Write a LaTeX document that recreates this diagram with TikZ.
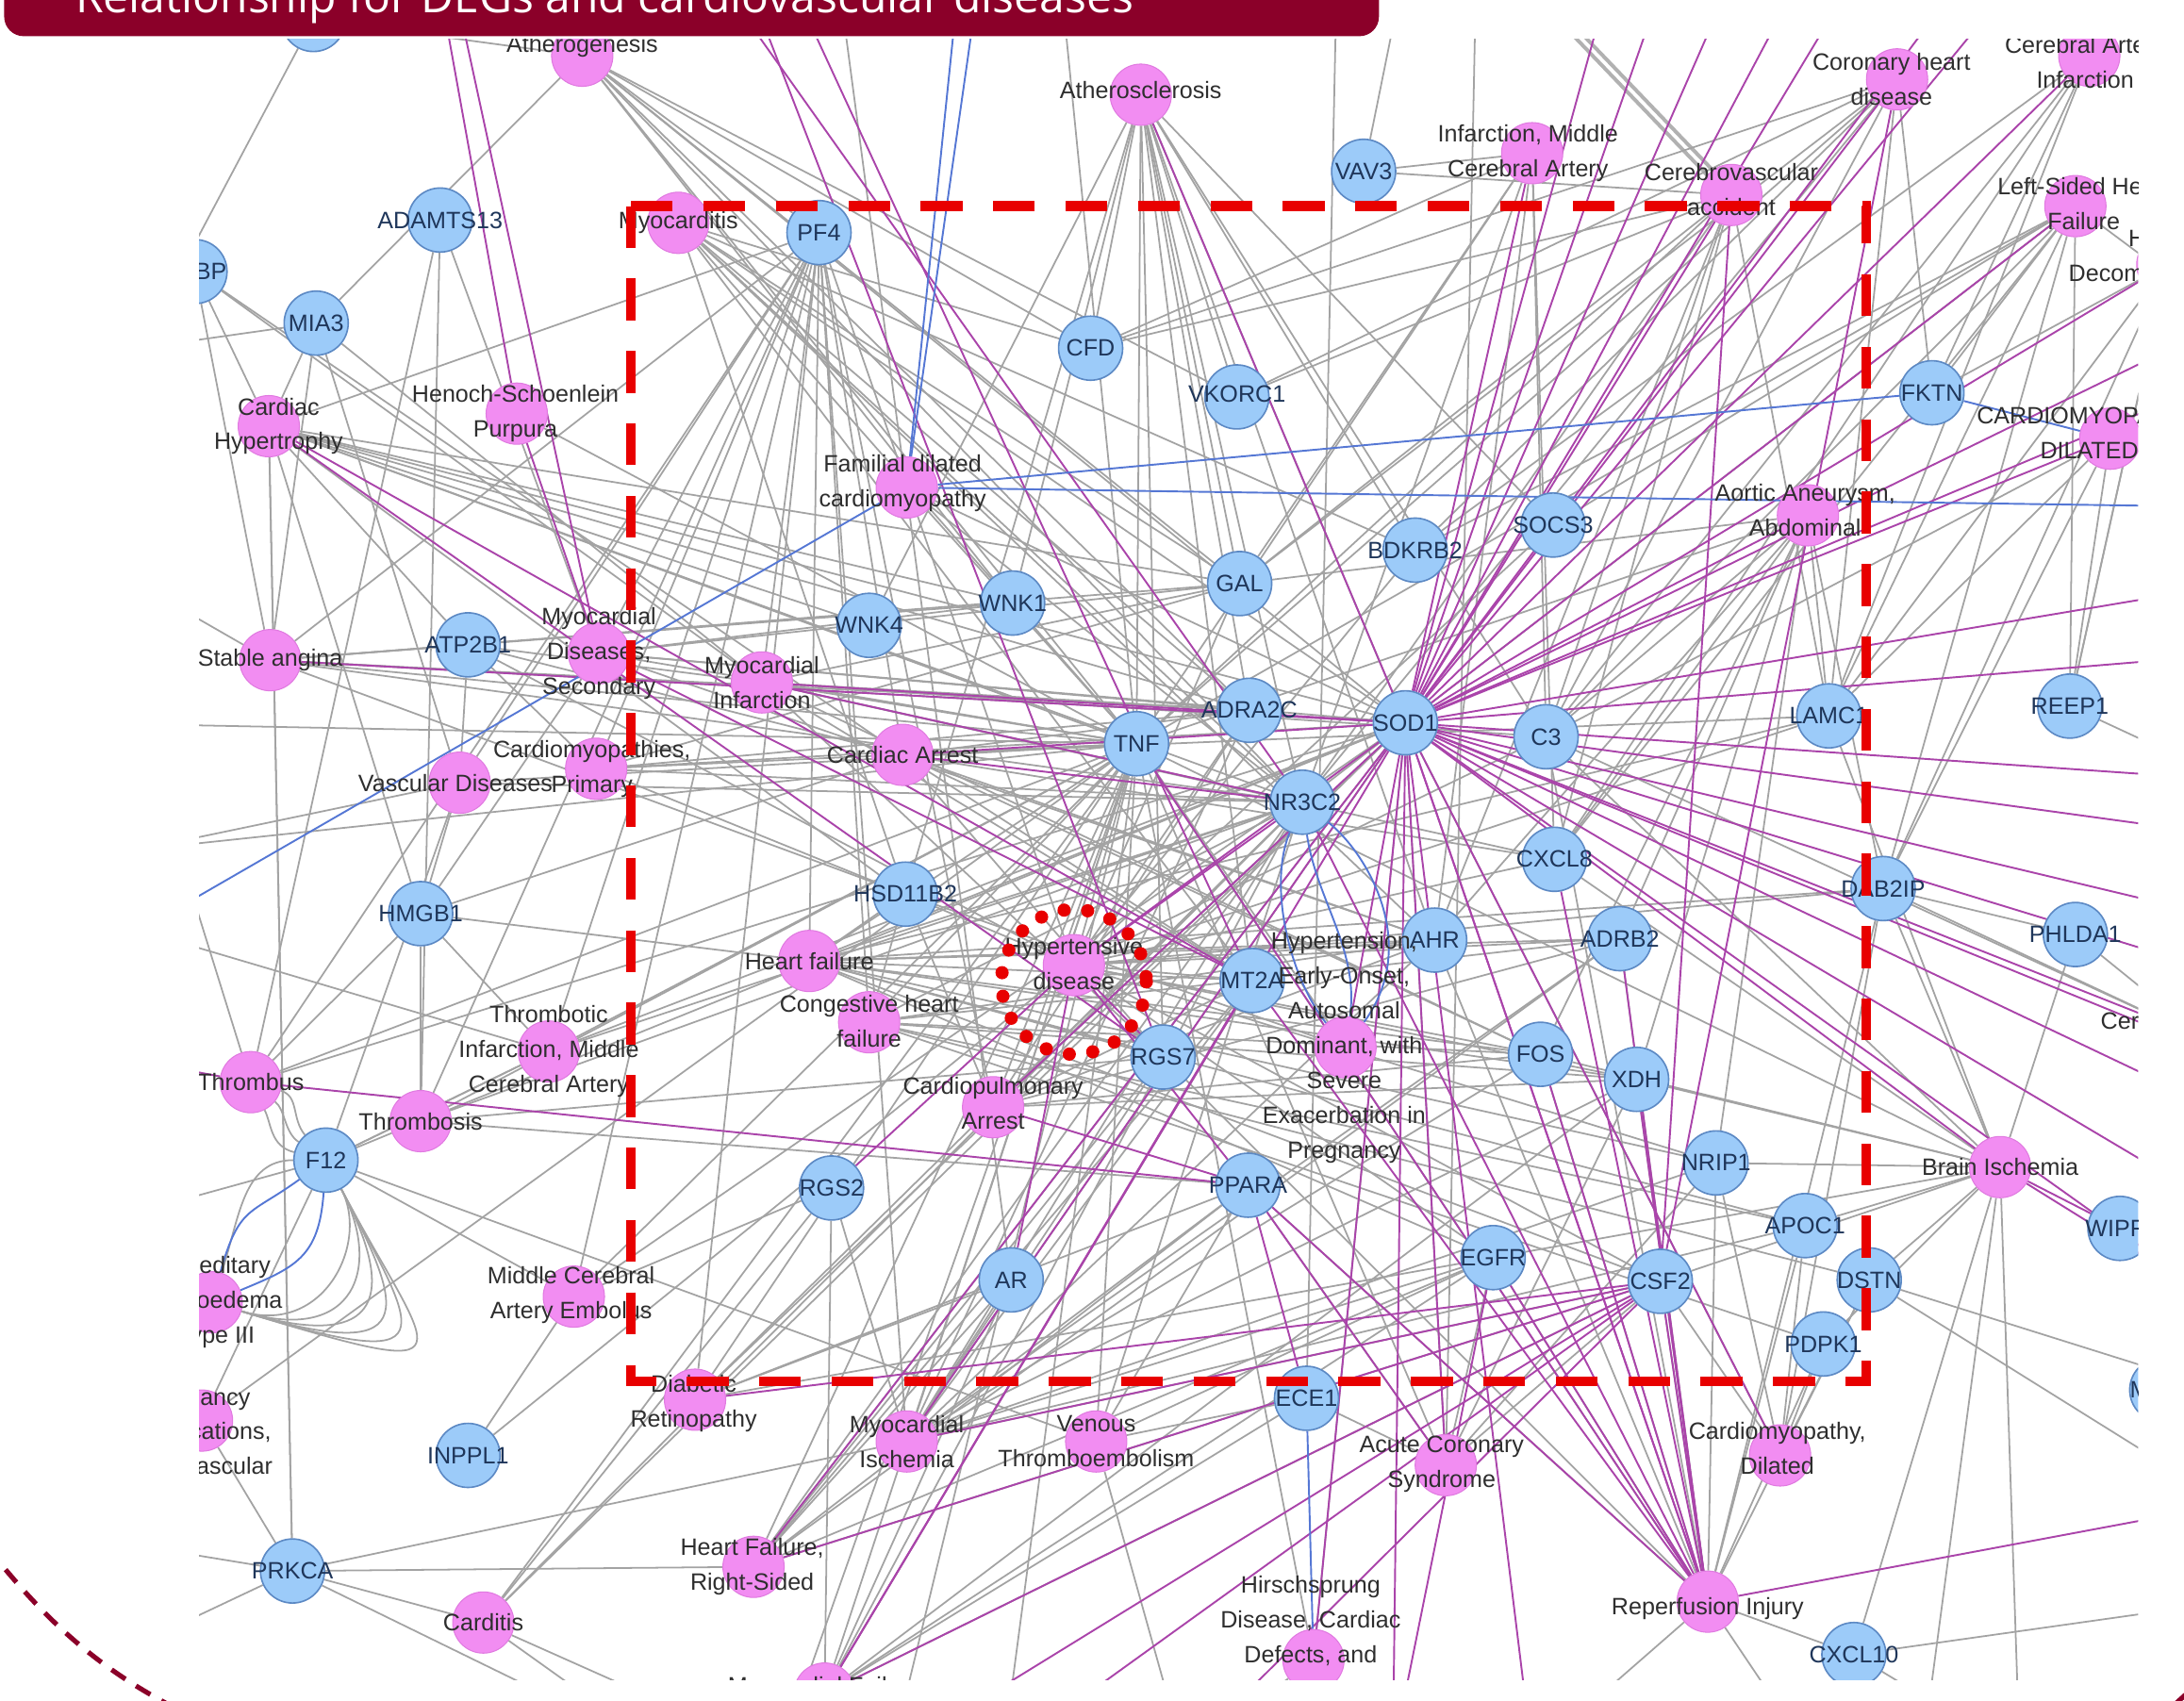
\documentclass[tikz,border=0pt]{standalone}
\usepackage{fontspec}
\setmainfont{Liberation Sans}
\newfontfamily\bannerfont{Open Sans}
\pgfdeclarelayer{edgelayer}
\pgfsetlayers{edgelayer,main}
\definecolor{gfill}{HTML}{9CCBF9}
\definecolor{gdraw}{HTML}{5C89C4}
\definecolor{dfill}{HTML}{F28DF2}
\definecolor{ddraw}{HTML}{E07AE0}
\definecolor{gedge}{HTML}{A3A3A3}
\definecolor{medge}{HTML}{AA44AA}
\definecolor{bedge}{HTML}{5577D4}
\definecolor{banner}{HTML}{8B0029}
\definecolor{boxred}{HTML}{E80000}
\definecolor{gtext}{HTML}{1F365A}
\definecolor{dtext}{HTML}{2E2E2E}
\newcommand{\myhub}[3]{\foreach \e in {#3}{\draw[#1] (#2) -- (\e);}}
\begin{document}
\begin{tikzpicture}[x=1pt,y=-1pt,
 gene/.style={circle,fill=gfill,draw=gdraw,line width=1.1pt,minimum size=46pt,inner sep=0pt},
 dis/.style={circle,fill=dfill,draw=ddraw,line width=0.7pt,minimum size=44pt,inner sep=0pt},
 glab/.style={inner sep=0pt,text=gtext,font=\fontsize{17}{20}\selectfont},
 dlab/.style={inner sep=0pt,align=center,text=dtext,font=\fontsize{17}{25}\selectfont},
 gline/.style={draw=gedge,line width=1.2pt},
 mline/.style={draw=medge,line width=1.3pt},
 bline/.style={draw=bedge,line width=1.3pt},
]
\useasboundingbox (0,0) rectangle (1568,1220.7);

% off-picture end points
\foreach \nn/\px/\py in {oT1/312/-30,oT2/322/-30,oT3/336/-30,oT4/505/-30,oT5/530/-30,oT6/560/-30,oT7/690/-30,oT8/705/-30,oT9/1080/-30,oT10/1160/-30,oT11/1200/-30,oT12/1250/-30,oT13/1300/-30,oT14/1340/-30,oT15/1420/-30,oT16/1460/-30,oT17/760/-30,oT18/960/-30,oT19/1010/-30,oT20/600/-30,oT21/1060/-30,
 oR1/1600/230,oR2/1600/270,oR3/1600/364,oR4/1600/420,oR5/1600/470,oR6/1600/560,oR7/1600/600,oR8/1600/660,oR9/1600/700,oR10/1600/760,oR11/1600/800,oR12/1600/870,oR13/1600/940,oR14/1600/1000,oR15/1600/1080,oR16/1600/1150,
 oL1/100/250,oL2/100/350,oL3/100/420,oL4/100/520,oL5/100/610,oL6/100/668,oL7/100/762,oL8/100/870,oL9/100/1110,oL10/100/1180,
 oB1/480/1260,oB2/560/1260,oB3/640/1260,oB4/720/1260,oB5/850/1260,oB6/1000/1260,oB7/1100/1260,oB8/1300/1260,oB9/1450/1260,oB10/1380/1260}
  \coordinate (\nn) at (\px,\py);

\begin{scope}
\clip (143,28) rectangle (1535,1206);
% gene circles
\foreach \nn/\px/\py in {gTop/225/14,ADAMTS13/316/158,BP/140/195,MIA3/227/232,PF4/588/167,CFD/783/250,VKORC1/888/285,VAV3/979/123,FKTN/1387/282,SOCS3/1115/377,BDKRB2/1016/395,GAL/890/419,WNK1/727/433,WNK4/624/449,ATP2B1/336/463,TNF/816/534,ADRA2C/897/510,SOD1/1009/519,C3/1110/529,LAMC1/1313/514,REEP1/1486/507,NR3C2/935/576,CXCL8/1116/617,DAB2IP/1352/638,PHLDA1/1490/671,HSD11B2/650/642,HMGB1/302/656,AHR/1030/675,ADRB2/1163/674,MT2A/899/704,RGS7/835/759,FOS/1106/757,XDH/1175/775,NRIP1/1232/835,F12/234/833,PPARA/896/851,RGS2/597/853,APOC1/1296/880,DSTN/1342/919,WIPF/1522/882,EGFR/1072/903,CSF2/1192/920,AR/726/919,PDPK1/1309/965,Mx/1552/998,ECE1/938/1004,INPPL1/336/1045,PRKCA/210/1128,CXCL10/1331/1188}
  \node[gene] (\nn) at (\px,\py) {};
% disease circles
\foreach \nn/\px/\py in {dAtherog/418/40,dAthero/819/68,dCHD/1362/57,dCAI/1500/40,dIMCA/1100/110,dCVA/1243/140,dLSHF/1490/148,dHFD/1556/190,dMyoc/487/160,dHSP/371/297,dCardHyp/193/306,dFDC/651/350,dCMD/1515/315,dAAA/1298/370,dStable/194/474,dMDS/430/469,dMI/547/490,dCMP/428/552,dVasc/330/562,dCArr/648/542,dHF/581/690,dHyp/771/693,dCHF/624/734,dHEO/966/752,dTIMCA/394/755,dThrombus/180/777,dThrombosis/302/805,dCPA/713/795,dBrain/1436/838,dHAE/152/935,dMCAE/412/931,dPreg/145/1020,dDR/499/1005,dMIsch/651/1035,dVTE/787/1035,dACS/1038/1052,dCMDil/1278/1045,dHFRS/541/1125,dCarditis/347/1165,dHirsch/943/1192,dRI/1226/1150,dMF/592/1216,dCer/1580/745}
  \node[dis] (\nn) at (\px,\py) {};
% gene labels
\foreach \nn/\px/\py/\lab in {ADAMTS13/316/158/ADAMTS13,MIA3/227/232/MIA3,PF4/588/167/PF4,CFD/783/250/CFD,VKORC1/888/283/VKORC1,VAV3/979/123/VAV3,FKTN/1387/282/FKTN,SOCS3/1115/377/SOCS3,BDKRB2/1016/395/BDKRB2,GAL/890/419/GAL,WNK1/727/433/WNK1,WNK4/624/449/WNK4,ATP2B1/336/463/ATP2B1,TNF/816/534/TNF,ADRA2C/897/510/ADRA2C,SOD1/1009/519/SOD1,C3/1110/529/C3,LAMC1/1313/514/LAMC1,REEP1/1486/507/REEP1,NR3C2/935/576/NR3C2,CXCL8/1116/617/CXCL8,DAB2IP/1352/638/DAB2IP,PHLDA1/1490/671/PHLDA1,HSD11B2/650/642/HSD11B2,HMGB1/302/656/HMGB1,AHR/1030/675/AHR,ADRB2/1163/674/ADRB2,MT2A/899/704/MT2A,RGS7/835/759/RGS7,FOS/1106/757/FOS,XDH/1175/775/XDH,NRIP1/1232/835/NRIP1,F12/234/833/F12,PPARA/896/851/PPARA,RGS2/597/853/RGS2,APOC1/1296/880/APOC1,DSTN/1342/919/DSTN,EGFR/1072/903/EGFR,CSF2/1192/920/CSF2,AR/726/919/AR,PDPK1/1309/965/PDPK1,ECE1/938/1004/ECE1,INPPL1/336/1045/INPPL1,PRKCA/210/1128/PRKCA,CXCL10/1331/1188/CXCL10}
  \node[glab] (\nn-t) at (\px,\py) {\lab};
\node[glab,anchor=east] (BP-t) at (163,195) {BP};
\node[glab,anchor=west] (WIPF-t) at (1497,882) {WIPF};
\node[glab,anchor=west] (Mx-t) at (1529,998) {M};
% disease labels
\foreach \nn/\px/\py/\lab in {dAtherog/418/33/Atherogenesis,dAthero/819/65/Atherosclerosis,dCHD/1358/57/{Coronary heart\\disease},dCAI/1497/45/{Cerebral Artery\\Infarction},dIMCA/1097/110/{Infarction, Middle\\Cerebral Artery},dCVA/1243/136/{Cerebrovascular\\accident},dLSHF/1496/146/{Left-Sided Heart\\Failure},dMyoc/487/160/Myocarditis,dHSP/370/297/{Henoch-Schoenlein\\Purpura},dCardHyp/200/306/{Cardiac\\Hypertrophy},dFDC/648/347/{Familial dilated\\cardiomyopathy},dCMD/1500/311/{CARDIOMYOPATHY,\\DILATED},dAAA/1296/366/{Aortic Aneurysm,\\Abdominal},dStable/194/474/Stable angina,dMDS/430/469/{Myocardial\\Diseases,\\Secondary},dMI/547/490/{Myocardial\\Infarction},dCMP/425/552/{Cardiomyopathies,\\Primary},dVasc/327/562/Vascular Diseases,dCArr/648/542/Cardiac Arrest,dHF/581/690/Heart failure,dHyp/771/692/{Hypertensive\\disease},dCHF/624/733/{Congestive heart\\failure},dHEO/965/752/{Hypertension,\\Early-Onset,\\Autosomal\\Dominant, with\\Severe\\Exacerbation in\\Pregnancy},dTIMCA/394/755/{Thrombotic\\Infarction, Middle\\Cerebral Artery},dThrombus/180/777/Thrombus,dThrombosis/302/805/Thrombosis,dCPA/713/792/{Cardiopulmonary\\Arrest},dBrain/1436/838/Brain Ischemia,dHAE/155/935/{Hereditary\\Angioedema\\Type III},dMCAE/410/930/{Middle Cerebral\\Artery Embolus},dPreg/139/1028/{Pregnancy\\Complications,\\Cardiovascular},dDR/498/1008/{Diabetic\\Retinopathy},dMIsch/651/1035/{Myocardial\\Ischemia},dVTE/787/1035/{Venous\\Thromboembolism},dACS/1035/1051/{Acute Coronary\\Syndrome},dCMDil/1276/1040/{Cardiomyopathy,\\Dilated},dHFRS/540/1125/{Heart Failure,\\Right-Sided},dCarditis/347/1165/Carditis,dHirsch/941/1164/{Hirschsprung\\Disease, Cardiac\\Defects, and},dRI/1226/1155/Reperfusion Injury,dMF/592/1212/Myocardial Failure}
  \node[dlab] (\nn-t) at (\px,\py) {\lab};
\node[dlab,anchor=west] (dHFD-t1) at (1528,172) {Heart Failure,};
\node[dlab,anchor=west] (dHFD-t2) at (1485,198) {Decompensated};
\node[dlab,anchor=west] (dCer-t) at (1508,733) {Cerebral};

\begin{pgfonlayer}{edgelayer}
\clip (143,28) rectangle (1535,1206);
% thick double band at the top
\draw[draw=gedge!85,line width=8pt] (oT9) -- (dCVA);
\draw[white,line width=2.5pt] (oT9) -- (dCVA);
% grey connectors
\myhub{gline}{TNF}{dAtherog,dAthero,dMyoc,dHSP,dCardHyp,dStable,dMDS,dMI,dCMP,dVasc,dCArr,dHF,dHyp,dCHF,dTIMCA,dThrombus,dThrombosis,dCPA,dMCAE,dDR,dMIsch,dVTE,dHFRS,dCarditis,dMF,dACS,dRI,dHEO,dCVA,dIMCA,dFDC,dBrain,dCHD,dAAA,dLSHF,dHirsch,dPreg,oB2,oB3,oB4,oL4,oL5,oT17}
\myhub{gline}{PF4}{dStable,dMDS,dCMP,dVasc,dHF,dCHF,dThrombus,dThrombosis,dTIMCA,dCardHyp,dMI,dCArr,dHyp,dCPA,dMCAE,dDR,dMIsch}
\myhub{gline}{dMyoc}{SOD1,NR3C2,CFD,GAL,ADRA2C,HSD11B2,BDKRB2,AHR,MT2A}
\myhub{gline}{dAtherog}{SOD1,GAL,CFD,PF4,VKORC1,ADRA2C,WNK1,MIA3,gTop,NR3C2}
\myhub{gline}{dAthero}{SOD1,NR3C2,GAL,CFD,ADRA2C,MT2A,BDKRB2,SOCS3,RGS7,VKORC1,HSD11B2,WNK1,C3,AHR,WNK4}
\myhub{gline}{dCardHyp}{SOD1,NR3C2,ATP2B1,HSD11B2,ADRA2C,WNK1,WNK4,MIA3,BP,PRKCA,HMGB1,GAL}
\myhub{gline}{BP}{dMI,dCArr,dStable,oL2}
\myhub{gline}{MIA3}{dMI,dStable,dVasc,oL1}
\myhub{gline}{ADAMTS13}{dThrombosis,dThrombus,dMDS}
\myhub{gline}{gTop}{oL1}
\myhub{gline}{ATP2B1}{dHyp,dStable,dCArr,dMI,dCMP}
\myhub{gline}{dStable}{SOD1,WNK1,GAL,ADRA2C,HSD11B2,NR3C2,oL3}
\myhub{gline}{dMDS}{SOD1,GAL,WNK1,ADRA2C,AHR}
\myhub{gline}{dMI}{NR3C2,ADRA2C,C3,CXCL8,GAL,MT2A,RGS7,FOS}
\myhub{gline}{dCMP}{SOD1,NR3C2,GAL,ADRA2C,HSD11B2}
\myhub{gline}{dVasc}{HMGB1,F12,ATP2B1,NR3C2,oL5}
\myhub{gline}{dCArr}{ADRA2C,MT2A,RGS7,AHR,FOS,CXCL8,LAMC1}
\myhub{gline}{HSD11B2}{dHyp,dHF,dCHF,dHEO,dCPA}
\myhub{gline}{HMGB1}{dThrombus,dThrombosis,dTIMCA,dHF,dCArr,dMDS}
\myhub{gline}{dHF}{SOD1,NR3C2,MT2A,RGS7,AHR,ADRB2,FOS,XDH,EGFR,NRIP1,APOC1,LAMC1,DAB2IP,CSF2}
\myhub{gline}{dCHF}{NR3C2,ADRB2,XDH,FOS,AHR,APOC1,DSTN,PDPK1}
\myhub{gline}{dHyp}{MT2A,AHR,ADRB2,FOS,XDH,EGFR,CSF2,NRIP1,C3,CXCL8,GAL,ADRA2C,BDKRB2,SOCS3,LAMC1,DAB2IP}
\myhub{gline}{dTIMCA}{SOD1,NR3C2,F12,oL6}
\myhub{gline}{dThrombus}{SOD1,oL4}
\myhub{gline}{dThrombosis}{F12,SOD1,NR3C2,PPARA,RGS7}
\myhub{gline}{dCPA}{SOD1,NR3C2,ADRA2C,MT2A,AHR,FOS,ADRB2,XDH}
\myhub{gline}{F12}{dPreg,dTIMCA,dMCAE,oL8}
\myhub{gline}{dMCAE}{SOD1,RGS2,INPPL1}
\myhub{gline}{INPPL1}{dHyp}
\myhub{gline}{PRKCA}{dCardHyp,dCarditis,dPreg,oL9,oL10,dMIsch,dHFRS,oB1}
\myhub{gline}{dCarditis}{SOD1,NR3C2,RGS2,oB1,oB2}
\myhub{gline}{dDR}{SOD1,NR3C2,AR,PPARA,EGFR}
\myhub{gline}{dMIsch}{SOD1,NR3C2,ADRA2C,MT2A,RGS7,AHR,FOS,ADRB2,XDH,EGFR,CSF2,NRIP1,APOC1,PPARA,AR,RGS2}
\myhub{gline}{dVTE}{F12,PPARA,ECE1,NR3C2,EGFR,oB5}
\myhub{gline}{dHFRS}{SOD1,NR3C2,MT2A,RGS7,ADRB2,EGFR,CSF2,PPARA,AR}
\myhub{gline}{dMF}{NR3C2,RGS2,AR,MT2A,ECE1,CSF2,XDH,EGFR}
\myhub{gline}{dACS}{SOD1,PPARA,ECE1,EGFR,CSF2,NRIP1,XDH,oT21}
\myhub{gline}{dCMDil}{SOD1,CSF2,APOC1,DSTN,PDPK1,NRIP1,DAB2IP}
\myhub{gline}{dHirsch}{SOD1,oB5}
\myhub{gline}{dRI}{CSF2,EGFR,FOS,XDH,NRIP1,CXCL10,DSTN,APOC1,PDPK1,AHR,PPARA,C3,ADRB2,RGS7,DAB2IP,oB7,oB8}
\myhub{gline}{CXCL10}{dBrain,oR16,oB9}
\myhub{gline}{dBrain}{C3,CXCL8,FOS,XDH,NRIP1,APOC1,DSTN,EGFR,CSF2,PDPK1,DAB2IP,LAMC1,oB10,oB9}
\myhub{gline}{DSTN}{oR14,oR15}
\myhub{gline}{dCHD}{NR3C2,VKORC1,CFD,GAL,BDKRB2,C3,LAMC1,FKTN}
\myhub{gline}{dCAI}{FKTN,LAMC1,C3,BDKRB2,CXCL8}
\myhub{gline}{dLSHF}{FKTN,LAMC1,DAB2IP,C3,CXCL8,BDKRB2,SOCS3,NR3C2,oR1}
\myhub{gline}{dHFD}{FKTN,LAMC1,DAB2IP,REEP1}
\myhub{gline}{dCVA}{NR3C2,GAL,VKORC1,CFD,VAV3,AHR,C3,CXCL8,LAMC1}
\myhub{gline}{dIMCA}{VAV3,NR3C2,GAL,CFD,C3,CXCL8,AHR}
\myhub{gline}{dAAA}{GAL,C3,CXCL8,AHR,ADRB2,FOS,XDH,NRIP1,LAMC1,DAB2IP}
\myhub{gline}{dCMD}{LAMC1,DAB2IP,C3,REEP1}
\myhub{gline}{dFDC}{NR3C2,SOD1}
\myhub{gline}{PHLDA1}{oR10,dBrain,DAB2IP}
\myhub{gline}{REEP1}{oR6,dLSHF,dHFD}
\myhub{gline}{dCer}{DAB2IP,C3}
\myhub{gline}{VAV3}{oT19}
\myhub{gline}{ECE1}{oT18}
\myhub{gline}{AR}{oT20}
\draw[gline] (dThrombus) .. controls +(25,20) and +(-30,-20) .. (F12);
\draw[gline] (dThrombus) .. controls +(35,10) and +(-25,-30) .. (F12);
\draw[gline] (dThrombus) .. controls +(15,30) and +(-40,-10) .. (F12);
\foreach \k in {0.7,0.9,1.1,1.3,1.5,1.7}
  \draw[gline] (F12) .. controls +(45*\k,85*\k) and +(115*\k,35*\k) .. (dHAE);
\draw[gline] (F12) .. controls +(-60,0) and +(20,-60) .. (dHAE);
% magenta connectors
\myhub{mline}{SOD1}{dCHD,dCAI,dLSHF,dHFD,dCVA,dIMCA,dCMD,dAAA,dBrain,dCer,dRI,dACS,dHEO,dMI,dCArr,dHyp,dCMDil,dHirsch,dMIsch,dMF,dHFRS,dCPA,dAthero,dStable,oT10,oT11,oT12,oT13,oT14,oT15,oT16,oR1,oR2,oR4,oR5,oR6,oR7,oR8,oR9,oR10,oR11,oR12,oR13,oB6,oB7}
\draw[mline] (oL7) -- (dThrombus);
\draw[mline] (dThrombus) -- (PPARA);
\draw[mline] (oT1) -- (dHSP);
\draw[mline] (dHSP) -- (dMDS);
\draw[mline] (oT2) -- (dMDS);
\myhub{mline}{oT4}{NR3C2}
\myhub{mline}{oT5}{RGS7}
\myhub{mline}{oT6}{MT2A}
\myhub{mline}{dCardHyp}{MT2A,RGS7}
\myhub{mline}{dMDS}{MT2A}
\myhub{mline}{dHyp}{NR3C2,RGS7,RGS2,AR,PPARA}
\myhub{mline}{CSF2}{dMF,dHFRS,dMIsch,dDR,dRI,dCHD,dCVA,oB3,oB4,oB5}
\myhub{mline}{dRI}{SOD1,NR3C2,MT2A,CXCL8,EGFR,ADRB2,FOS,PPARA,XDH,oR15,TNF}
\myhub{mline}{PPARA}{ECE1,dCPA,dACS}
\myhub{mline}{NR3C2}{dCArr,dMI}
\myhub{mline}{MT2A}{dMF}
\myhub{mline}{EGFR}{oB6}
\myhub{mline}{dBrain}{WIPF,oR13}
% blue connectors
\myhub{bline}{dFDC}{FKTN,oR3,oT7,oT8,oL6}
\draw[bline] (FKTN) -- (dCMD);
\draw[bline] (ECE1) -- (dHirsch);
\draw[bline] (NR3C2) .. controls +(-25,60) and +(-40,-50) .. (dHEO);
\draw[bline] (NR3C2) .. controls +(10,70) and +(10,-70) .. (dHEO);
\draw[bline] (NR3C2) .. controls +(45,35) and +(55,-75) .. (dHEO);
\draw[bline] (F12) .. controls +(-55,40) and +(20,-70) .. (dHAE);
\draw[bline] (F12) .. controls +(-5,70) and +(60,-25) .. (dHAE);
\end{pgfonlayer}
\end{scope}

% highlight boxes
\draw[boxred,line width=7pt,dash pattern=on 30pt off 22pt] (453,148) rectangle (1340,992);
\draw[boxred,line width=9.5pt,line cap=round,dash pattern=on 0pt off 17pt] (771,705) circle (52);

% banner
\fill[banner,rounded corners=14pt] (3,-40) rectangle (990,26);
\node[anchor=base west,inner sep=0pt,text=white,font=\bannerfont\fontsize{32.5}{33}\selectfont] (title) at (54,9) {Relationship for DEGs and cardiovascular diseases};

% decorative dashed arcs
\draw[banner,line width=3.5pt,dash pattern=on 12pt off 9pt] (4,1127) .. controls (40,1170) and (75,1200) .. (125,1226);
\draw[banner,line width=3.5pt] (1559,1226) -- (1570,1216);
\end{tikzpicture}
\end{document}
